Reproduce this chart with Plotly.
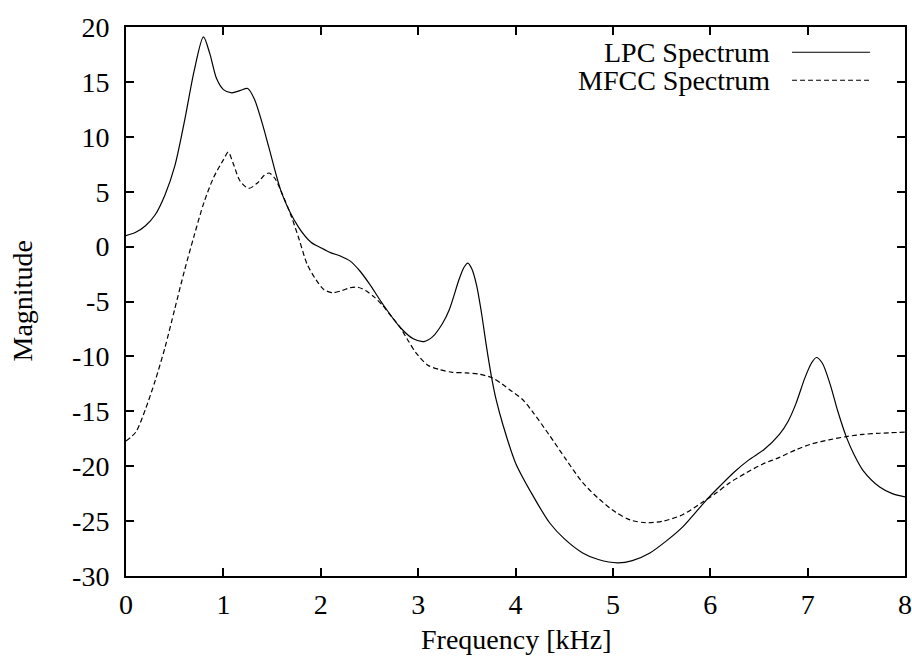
import plotly.graph_objects as go

# ---- data ----
lpc_freq = [0.0, 0.1, 0.2, 0.3, 0.4, 0.5, 0.6, 0.7, 0.795, 0.86, 0.93, 1.0,
            1.086, 1.17, 1.25, 1.32, 1.40, 1.47, 1.60, 1.77, 1.90, 2.0, 2.1, 2.2, 2.3, 2.4, 2.5,
            2.63, 2.81, 2.95, 3.06, 3.15, 3.25, 3.32, 3.42, 3.47, 3.51, 3.55, 3.60, 3.65, 3.70,
            3.75, 3.80, 3.87, 4.0, 4.18, 4.35, 4.5, 4.69, 4.85, 5.05, 5.2, 5.38, 5.55, 5.72,
            5.85, 5.99, 6.1, 6.25, 6.4, 6.55, 6.71, 6.8, 6.88, 6.97, 7.04, 7.09, 7.15, 7.23,
            7.31, 7.40, 7.48, 7.57, 7.74, 7.87, 8.0]
lpc_mag = [1.0, 1.3, 1.9, 2.9, 4.7, 7.3, 11.4, 16.0, 19.1, 17.6, 15.3, 14.3,
           14.0, 14.2, 14.4, 13.4, 11.2, 8.95, 4.85, 1.8, 0.4, -0.1, -0.55, -0.85, -1.3, -2.2, -3.4,
           -5.15, -7.3, -8.4, -8.65, -8.2, -7.0, -5.75, -3.0, -1.9, -1.5, -2.0, -3.5, -6.0, -9.0,
           -11.7, -13.9, -16.2, -19.7, -22.7, -25.15, -26.6, -27.9, -28.5, -28.8, -28.6, -27.9, -26.8, -25.5,
           -24.2, -22.8, -21.8, -20.5, -19.4, -18.5, -17.1, -15.9, -14.3, -12.0, -10.6, -10.1, -10.6, -12.5,
           -15.0, -17.4, -19.0, -20.4, -21.9, -22.5, -22.8]

mfcc_freq = [0.0, 0.1, 0.2, 0.3, 0.4, 0.5, 0.6, 0.7, 0.8, 0.9, 1.0, 1.05,
             1.1, 1.17, 1.26, 1.35, 1.42, 1.47, 1.53, 1.6, 1.70, 1.78, 1.86, 1.95, 2.03, 2.12,
             2.22, 2.30, 2.38, 2.46, 2.55, 2.63, 2.72, 2.81, 2.9, 2.98, 3.1, 3.22, 3.35, 3.49,
             3.62, 3.76, 3.86, 3.95, 4.07, 4.18, 4.35, 4.52, 4.69, 4.86, 5.03, 5.18, 5.34,
             5.52, 5.72, 5.9, 6.06, 6.2, 6.37, 6.54, 6.71, 6.88, 7.05, 7.22, 7.40, 7.57, 7.74, 8.0]
mfcc_mag = [-17.7, -16.9, -14.8, -12.2, -9.2, -5.7, -2.2, 1.0, 4.0, 6.3, 7.9, 8.6,
            7.6, 6.0, 5.3, 5.8, 6.5, 6.7, 6.2, 4.9, 2.7, 0.6, -1.6, -3.0, -3.9, -4.2,
            -4.0, -3.75, -3.7, -4.0, -4.6, -5.3, -6.3, -7.3, -8.6, -9.7, -10.8, -11.2, -11.45, -11.5,
            -11.6, -11.95, -12.5, -13.1, -13.9, -15.1, -17.2, -19.4, -21.5, -23.0, -24.2, -24.9, -25.15,
            -25.0, -24.4, -23.4, -22.45, -21.5, -20.6, -19.8, -19.2, -18.5, -17.95, -17.6, -17.3, -17.1, -17.0, -16.9]

series_names = ["LPC Spectrum", "MFCC Spectrum"]
x_ticks = [0, 1, 2, 3, 4, 5, 6, 7, 8]
y_ticks = [20, 15, 10, 5, 0, -5, -10, -15, -20, -25, -30]

FONT = "Liberation Serif"
FS = 28

fig = go.Figure()
fig.add_trace(go.Scatter(x=lpc_freq, y=lpc_mag, mode="lines", name=series_names[0],
                         line=dict(color="black", width=1.2, shape="spline", smoothing=0.8),
                         showlegend=False))
fig.add_trace(go.Scatter(x=mfcc_freq, y=mfcc_mag, mode="lines", name=series_names[1],
                         line=dict(color="black", width=1.2, dash="5px,3px", shape="spline", smoothing=0.8),
                         showlegend=False))

axis_common = dict(showline=True, mirror="ticks", linecolor="black", linewidth=2,
                   ticks="inside", ticklen=8, tickwidth=1.5, tickcolor="black",
                   showgrid=False, zeroline=False, automargin=False,
                   tickfont=dict(family=FONT, size=FS, color="black"))

fig.update_layout(
    width=912, height=663,
    margin=dict(l=126, r=7, t=27, b=87),
    paper_bgcolor="white", plot_bgcolor="white",
    font=dict(family=FONT, size=FS, color="black"),
    xaxis=dict(range=[0, 8], tickvals=x_ticks, ticktext=[str(v) for v in x_ticks],
               ticklabelstandoff=2, **axis_common),
    yaxis=dict(range=[-30, 20], tickvals=y_ticks, ticktext=[str(v) for v in y_ticks],
               ticklabelstandoff=9, **axis_common),
)

# axis titles placed as in the reference
fig.add_annotation(x=0.5, y=-0.1165, xref="paper", yref="paper", text="Frequency [kHz]",
                   showarrow=False, xanchor="center", yanchor="middle",
                   font=dict(family=FONT, size=FS, color="black"))
fig.add_annotation(x=(22 - 126) / 779, y=0.5, xref="paper", yref="paper", text="Magnitude",
                   showarrow=False, textangle=-90, xanchor="center", yanchor="middle",
                   font=dict(family=FONT, size=FS, color="black"))

# manual gnuplot-style legend (text left, sample right)
legend_rows = [(series_names[0], "solid", 0.954), (series_names[1], "5px,3px", 0.903)]
for name, dash, yp in legend_rows:
    fig.add_annotation(x=0.829, y=yp, xref="paper", yref="paper", text=name, showarrow=False,
                       xanchor="right", yanchor="middle",
                       font=dict(family=FONT, size=FS, color="black"))
    fig.add_shape(type="line", xref="paper", yref="paper", x0=0.855, x1=0.955, y0=yp, y1=yp,
                  line=dict(color="black", width=1.2, dash=dash))

fig.write_html("out.html")
